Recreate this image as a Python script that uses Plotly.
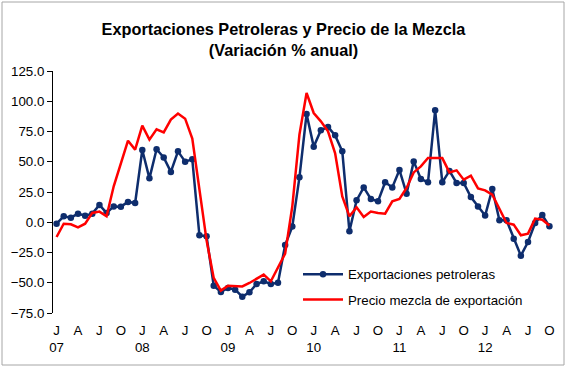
import plotly.graph_objects as go

years = ["07", "08", "09", "10", "11", "12"]
month_letters = ["J", "F", "M", "A", "M", "J", "J", "A", "S", "O", "N", "D"]
n_months = 70  # Jan 2007 .. Oct 2012

exportaciones = [-1.2, 4.9, 3.8, 7.1, 5.4, 7.1, 14.3, 7.7, 13.1, 12.9, 16.8, 15.9,
                 59.7, 36.3, 60.3, 53.6, 41.6, 58.6, 50.1, 52.0, -10.8, -11.6, -52.4, -57.6,
                 -54.3, -55.7, -61.5, -57.9, -51.0, -48.8, -51.0, -49.9, -18.8, -3.6, 37.1, 89.5,
                 62.5, 76.0, 78.8, 71.8, 58.6, -7.5, 18.1, 28.8, 19.3, 17.3, 33.0, 28.8,
                 43.2, 23.6, 50.3, 35.8, 33.0, 92.5, 33.0, 42.4, 32.5, 32.5, 20.9, 13.1,
                 5.5, 27.5, 1.6, 1.6, -13.6, -27.6, -16.3, -0.6, 6.0, -3.4]

precio_mezcla = [-12.2, -1.2, -1.7, -4.2, -1.2, 7.7, 8.8, 4.9, 29.7, 48.2, 67.4, 60.0,
                 79.8, 68.3, 76.8, 74.3, 84.8, 89.8, 85.6, 69.1, 29.0, -15.0, -46.0, -56.5,
                 -52.4, -53.0, -53.0, -50.2, -46.9, -43.3, -48.8, -37.0, -26.0, 13.0, 72.4, 106.8,
                 90.3, 83.4, 75.1, 57.0, 21.4, 4.9, 12.3, 4.4, 8.8, 7.7, 7.1, 17.3,
                 19.3, 28.3, 41.2, 46.2, 53.1, 53.0, 53.0, 41.2, 42.9, 35.2, 38.5, 28.0,
                 26.4, 22.8, 10.4, -0.6, -2.0, -10.8, -9.4, 3.0, 2.1, -2.6]

# categories: one per month
categories = []
for i in range(n_months):
    y = years[i // 12]
    m = i % 12
    categories.append(f"{month_letters[m]}-{y}-{m+1:02d}")

tick_vals = [categories[i] for i in range(0, n_months, 3)]
tick_text = []
for i in range(0, n_months, 3):
    m = i % 12
    lab = month_letters[m]
    if m == 0:
        lab = lab + "<br>" + years[i // 12]
    tick_text.append(lab)

FONT = "Liberation Sans, Arial, sans-serif"
BLUE = "#0e2d6d"
RED = "#ff0000"

fig = go.Figure()
fig.add_trace(go.Scatter(x=categories, y=exportaciones, mode="lines+markers",
                         name="Exportaciones petroleras", legendgroup="a",
                         line=dict(color=BLUE, width=2.5),
                         marker=dict(color=BLUE, size=6.5)))
fig.add_trace(go.Scatter(x=categories, y=precio_mezcla, mode="lines",
                         name="Precio mezcla de exportación", legendgroup="b",
                         line=dict(color=RED, width=2.5)))

L, R, T, B = 53, 14, 71, 55
W, H = 567, 368
pw, ph = W - L - R, H - T - B

fig.update_layout(
    width=W, height=H,
    margin=dict(l=L, r=R, t=T, b=B, autoexpand=False),
    paper_bgcolor="white", plot_bgcolor="white",
    font=dict(family=FONT, size=13, color="black"),
    title=dict(text="<b>Exportaciones Petroleras y Precio de la Mezcla<br>(Variación % anual)</b>",
               x=0.5, xanchor="center", xref="container",
               y=1 - 35 / H, yanchor="top",
               font=dict(family=FONT, size=16.3, color="black")),
    showlegend=True,
    legend=dict(x=(298 - L) / pw, y=(313 - 259) / ph, xanchor="left", yanchor="top",
                bgcolor="rgba(0,0,0,0)", font=dict(family=FONT, size=13.3),
                tracegroupgap=5, itemwidth=40),
    xaxis=dict(type="category", range=[-0.5, n_months - 0.5],
               tickmode="array", tickvals=tick_vals, ticktext=tick_text,
               showline=False, showgrid=False, zeroline=False,
               ticks="outside", ticklen=5, tickcolor="rgba(0,0,0,0)",
               tickangle=0, tickfont=dict(family=FONT, size=13.3)),
    xaxis2=dict(overlaying="x", anchor="free", position=(0 - (-75)) / 200,
                range=[-0.5, n_months - 0.5], type="linear",
                tickmode="array", tickvals=[i + 0.5 for i in range(n_months)],
                showticklabels=False, ticks="outside", ticklen=5, tickwidth=1,
                tickcolor="black", showline=True, linecolor="black", linewidth=1,
                showgrid=False, zeroline=False),
    yaxis=dict(range=[-75, 125], dtick=25, tick0=0, tickformat=".1f",
               showline=True, linecolor="black", linewidth=1,
               ticks="outside", ticklen=5, tickcolor="black",
               showgrid=False, zeroline=False,
               tickfont=dict(family=FONT, size=13.3)),
)

# light grey chart border
fig.add_shape(type="rect", xref="paper", yref="paper",
              x0=(2 - L) / pw, x1=(564 - L) / pw,
              y0=(H - B - 365) / ph, y1=(H - B - 2) / ph,
              line=dict(color="#a6a6a6", width=1), fillcolor="rgba(0,0,0,0)",
              layer="below")

fig.write_html("out.html", config={"displayModeBar": False},
               post_script="document.body.style.margin='0';document.body.style.overflow='hidden';")
